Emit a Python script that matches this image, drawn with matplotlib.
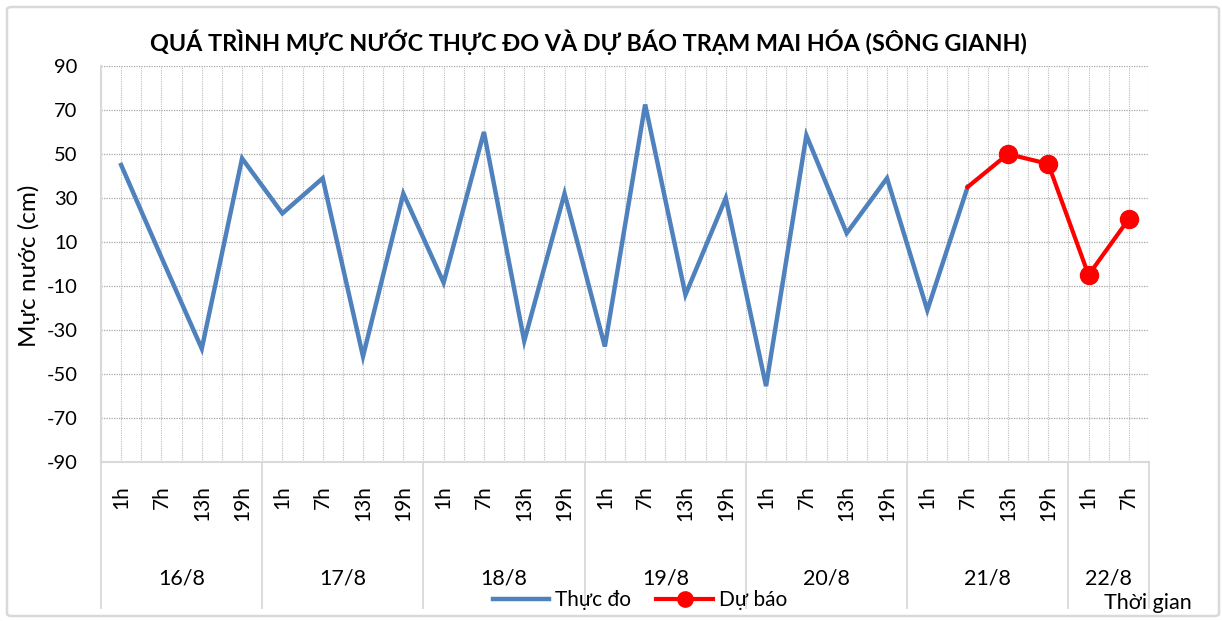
import matplotlib
matplotlib.use("Agg")
import matplotlib.pyplot as plt
import matplotlib.transforms as mtransforms
from matplotlib.patches import FancyBboxPatch
from matplotlib.lines import Line2D

plt.rcParams['font.family'] = ['Lato', 'Noto Sans', 'DejaVu Sans']
plt.rcParams['axes.unicode_minus'] = False

days = ["16/8", "17/8", "18/8", "19/8", "20/8", "21/8", "22/8"]
hours_per_day = [["1h", "7h", "13h", "19h"]] * 6 + [["1h", "7h"]]
hour_labels = [h for day in hours_per_day for h in day]

observed = [45, 3, -38.5, 48,
            23, 39, -42, 32,
            -8.5, 60, -35, 32,
            -37.5, 72.5, -14, 30,
            -55.5, 58.5, 14, 39,
            -21, 35]
forecast_idx = [21, 22, 23, 24, 25]
forecast = [35, 50, 45.5, -5, 20.5]

title = "QUÁ TRÌNH MỰC NƯỚC THỰC ĐO VÀ DỰ BÁO TRẠM MAI HÓA (SÔNG GIANH)"
ylabel = "Mực nước (cm)"
xlabel = "Thời gian"
yticks = list(range(-90, 91, 20))

W, H = 1222, 621
fig = plt.figure(figsize=(W / 100, H / 100), dpi=100)
ax = fig.add_axes([101 / W, 1 - 462 / H, (1149 - 101) / W, (462 - 66) / H])

# outer frame
fig.patches.append(FancyBboxPatch((7 / W, 5 / H), (1212 / W), (609 / H),
                                  boxstyle="round,pad=0,rounding_size=0.004",
                                  transform=fig.transFigure, fill=False,
                                  edgecolor="#D9D9D9", linewidth=1.8))

n = len(hour_labels)
x_obs = list(range(len(observed)))
blue = "#4F81BD"
red = "#FF0000"
ax.plot(x_obs, observed, color=blue, linewidth=3.2, solid_joinstyle="miter", zorder=3)
ax.plot(forecast_idx, forecast, color=red, linewidth=3.0, zorder=4)
ax.plot(forecast_idx[1:], forecast[1:], linestyle="none", marker="o",
        markersize=13, color=red, zorder=5)

ax.set_xlim(-0.5, n - 0.5)
ax.set_ylim(-90, 90)
ax.set_yticks(yticks)
ax.set_xticks(range(n))
ax.set_xticks([i + 0.5 for i in range(-1, n)], minor=True)
ax.set_xticklabels(hour_labels, rotation=90, va="top", ha="center", fontsize=15)
ax.tick_params(axis="x", which="both", length=0, pad=16.5)
ax.tick_params(axis="y", length=0, labelsize=14.5, pad=17)
ax.grid(True, which="both", axis="x", color="#BFBFBF", linestyle=(0, (1, 1)), linewidth=0.8)
ax.grid(True, which="major", axis="y", color="#A6A6A6", linestyle=(0, (1, 1)), linewidth=0.9)
ax.set_axisbelow(True)
for s in ["top", "right"]:
    ax.spines[s].set_visible(False)
for s in ["left", "bottom"]:
    ax.spines[s].set_color("#D9D9D9")
    ax.spines[s].set_linewidth(1.5)

trans = mtransforms.blended_transform_factory(ax.transData, ax.transAxes)
# day separators and labels
start = 0
bounds = [-0.5]
for d, hrs in zip(days, hours_per_day):
    end = start + len(hrs)
    bounds.append(end - 0.5)
    ax.text((start + end - 1) / 2, -0.293, d, transform=trans, ha="center", va="center", fontsize=15.5)
    start = end
for b in bounds:
    ax.plot([b, b], [0, -0.369], transform=trans, color="#D9D9D9", linewidth=1.3, clip_on=False)

fig.text(29 / W, 1 - 266 / H, ylabel, rotation=90, ha="center", va="center", fontsize=17.5)
fig.text(588 / W, 1 - 42 / H, title, ha="center", va="center", fontsize=16.8, fontweight="bold")
fig.text(1148 / W, 1 - 603 / H, xlabel, ha="center", va="center", fontsize=15.5)

handles = [Line2D([], [], color=blue, linewidth=3.2),
           Line2D([], [], color=red, linewidth=3.0, marker="o", markersize=11)]
fig.legend(handles, ["Thực đo", "Dự báo"], loc="center", bbox_to_anchor=(640 / W, 1 - 600 / H),
           ncol=2, frameon=False, fontsize=15, handlelength=2.7, columnspacing=1.2, handletextpad=0.3)

fig.savefig("out.png", dpi=100)
